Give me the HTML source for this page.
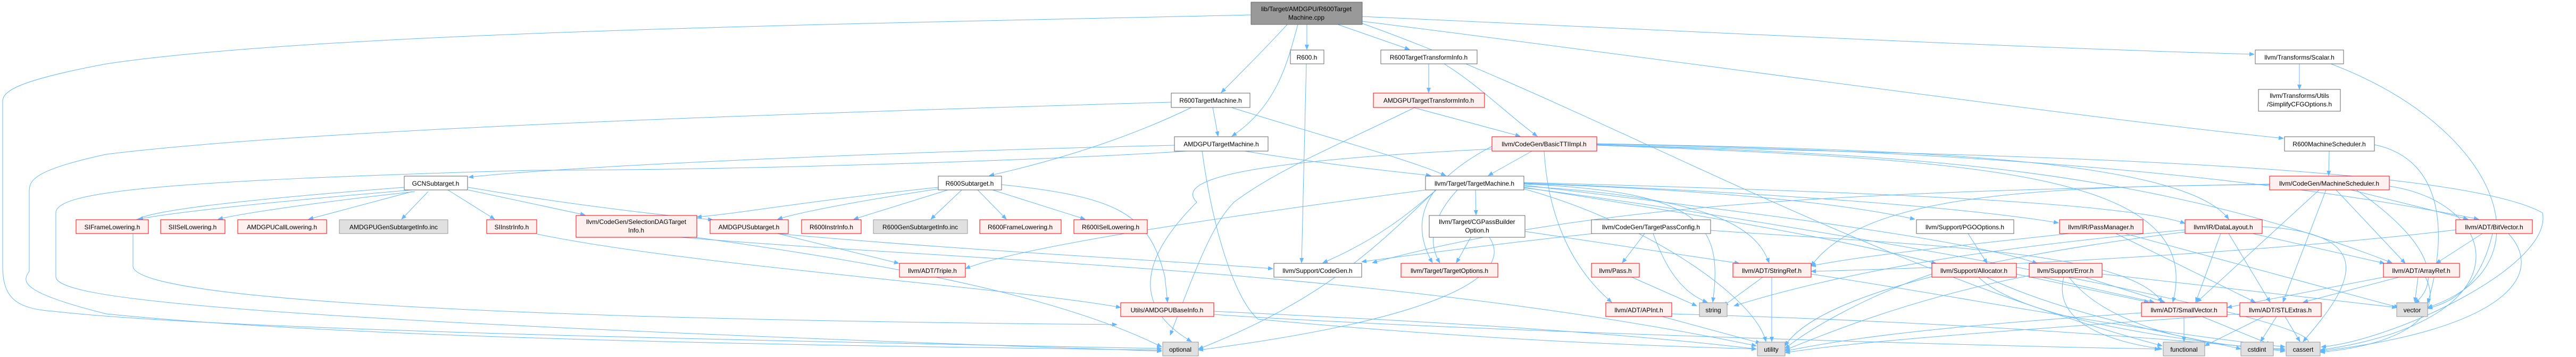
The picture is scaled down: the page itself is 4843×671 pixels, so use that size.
<!DOCTYPE html>
<html><head><meta charset="utf-8"><style>
html,body{margin:0;padding:0;background:#fff;}
svg{display:block;}
text{font-family:"Liberation Sans",sans-serif;font-size:12px;fill:#000;text-anchor:middle;}
.w{fill:#fff;stroke:#666;stroke-width:1;}
.r{fill:#fff0f0;stroke:#f00;stroke-width:1;}
.g{fill:#e0e0e0;stroke:#999;stroke-width:1;}
.k{fill:#999;stroke:#666;stroke-width:1;}
path.e{fill:none;stroke:#63b8ff;stroke-width:1;marker-end:url(#a);}
</style></head><body>
<svg width="4843" height="671" viewBox="0 0 4843 671" xmlns="http://www.w3.org/2000/svg">
<defs><marker id="a" markerWidth="10" markerHeight="8" refX="9" refY="4" orient="auto" markerUnits="userSpaceOnUse"><path d="M0,0 L10,4 L0,8 z" fill="#63b8ff"/></marker></defs>
<g>
<!-- root edges -->
<path class="e" d="M2352,28 C1600,45 600,60 200,120 C40,150 5,170 5,190 L5,500 C5,560 30,580 100,585 C400,620 1400,640 2184,655"/>
<path class="e" d="M2420,46 C2380,90 2330,140 2296,174"/>
<path class="e" d="M2440,46 C2420,120 2400,200 2316,256"/>
<path class="e" d="M2457,46 L2457,93"/>
<path class="e" d="M2515,46 L2650,93"/>
<path class="e" d="M2561,31 C3200,60 3800,90 4238,102"/>
<path class="e" d="M2561,40 C3200,120 3900,220 4293,260"/>
<!-- R600TargetMachine -->
<path class="e" d="M2202,192 C1600,210 600,240 200,290 C60,320 55,340 55,360 L55,510 C40,530 40,550 200,590 C700,640 1600,650 2184,658"/>
<path class="e" d="M2280,202 L2290,256"/>
<path class="e" d="M2240,202 C2100,270 1950,310 1860,330"/>
<path class="e" d="M2315,202 C2500,260 2650,300 2718,330"/>
<!-- AMDGPUTargetMachine -->
<path class="e" d="M2208,273 C1700,285 1100,310 881,333"/>
<path class="e" d="M2260,284 C2280,430 2320,560 2365,600 C2800,640 3100,650 3302,656"/>
<path class="e" d="M2230,284 C2000,300 1400,320 1000,320 C300,340 105,360 105,400 L105,520 C105,560 400,600 2184,660"/>
<path class="e" d="M2340,284 C2500,310 2600,320 2690,330"/>
<!-- GCNSubtarget -->
<path class="e" d="M775,357 C500,380 320,400 260,412"/>
<path class="e" d="M780,360 C600,380 460,400 410,412"/>
<path class="e" d="M775,360 L580,412"/>
<path class="e" d="M805,360 L755,412"/>
<path class="e" d="M842,357 L930,412"/>
<path class="e" d="M880,357 L1100,404"/>
<path class="e" d="M880,352 C1100,390 1300,410 1340,413"/>
<path class="e" d="M760,352 C400,380 250,400 250,420 L250,500 C250,560 900,600 2100,610"/>
<path class="e" d="M1010,440 C1300,500 1900,540 2107,578"/>
<!-- SelectionDAG -->
<path class="e" d="M1300,445 C1700,500 2000,560 2184,652"/>
<path class="e" d="M1280,446 C1800,490 2600,505 3302,650"/>
<!-- R600Subtarget -->
<path class="e" d="M1764,352 C1500,380 1400,400 1310,408"/>
<path class="e" d="M1764,355 C1600,380 1500,400 1462,412"/>
<path class="e" d="M1782,357 L1605,412"/>
<path class="e" d="M1808,357 L1750,412"/>
<path class="e" d="M1838,357 L1892,412"/>
<path class="e" d="M1866,357 L2040,412"/>
<path class="e" d="M1883,347 C2100,370 2160,400 2190,520 L2195,568"/>
<!-- AMDGPUSubtarget -->
<path class="e" d="M1462,439 L1690,495"/>
<path class="e" d="M1460,439 C1800,470 2200,490 2393,505"/>
<!-- Triple / Base -->
<path class="e" d="M2282,585 C2600,600 3000,620 3302,656"/>
<path class="e" d="M2282,591 C2700,620 3700,650 4060,656"/>
<!-- R600.h -->
<path class="e" d="M2456,120 L2447,494"/>
<!-- R600TTI -->
<path class="e" d="M2686,120 L2686,174"/>
<path class="e" d="M2715,120 C2780,160 2840,220 2890,256"/>
<!-- AMDGPUTTI -->
<path class="e" d="M2657,202 L2858,256"/>
<path class="e" d="M2660,202 C2500,280 2400,320 2320,380 C2280,420 2250,500 2200,630"/>
<!-- BasicTTIImpl -->
<path class="e" d="M2880,284 L2798,330"/>
<path class="e" d="M2805,275 C2700,330 2640,400 2693,494"/>
<path class="e" d="M2903,284 C2910,400 2950,500 3030,568"/>
<path class="e" d="M3002,272 C3500,290 4000,300 4497,494"/>
<path class="e" d="M3002,271 C3600,280 4200,320 4660,412"/>
<path class="e" d="M3002,270 C3500,280 4100,290 4190,412"/>
<path class="e" d="M3002,272 C3600,290 4600,300 4780,400 C4800,500 4500,640 4364,652"/>
<path class="e" d="M2805,280 C2400,300 2200,330 2250,380 C2180,450 2100,560 2240,642"/>
<path class="e" d="M3002,273 C3700,300 4150,320 4085,568"/>
<!-- TargetMachine.h -->
<path class="e" d="M2774,357 L2775,404"/>
<path class="e" d="M2700,357 C2650,400 2590,450 2487,494"/>
<path class="e" d="M2740,357 C2700,400 2680,450 2707,494"/>
<path class="e" d="M2680,357 C2200,420 1900,470 1815,505"/>
<path class="e" d="M2865,350 C3200,370 3300,420 3326,494"/>
<path class="e" d="M2865,346 C3200,360 3240,420 3220,568"/>
<path class="e" d="M2865,345 C3300,360 3500,390 3600,412"/>
<path class="e" d="M2865,344 C3300,360 3700,390 3870,419"/>
<path class="e" d="M2865,343 C3500,360 4000,380 4108,420"/>
<path class="e" d="M2865,348 C3300,400 3700,450 3830,495"/>
<path class="e" d="M2865,352 C3300,420 3500,460 3640,495"/>
<path class="e" d="M2865,353 C3400,420 4500,620 4320,652"/>
<path class="e" d="M2700,357 C2600,450 2500,560 2253,656"/>
<path class="e" d="M2865,355 C3100,420 3300,560 3320,642"/>
<!-- CGPassBuilderOption -->
<path class="e" d="M2765,446 L2738,494"/>
<path class="e" d="M2867,435 L3270,495"/>
<path class="e" d="M2800,446 C2850,520 2700,600 2253,658"/>
<!-- TargetPassConfig -->
<path class="e" d="M3092,439 L3050,494"/>
<path class="e" d="M3108,439 C3130,500 3160,550 3210,568"/>
<path class="e" d="M2995,439 C2800,460 2650,480 2560,492"/>
<path class="e" d="M3216,433 C3600,460 4000,470 4065,568"/>
<!-- Pass / StringRef / APInt -->
<path class="e" d="M3068,521 L3190,575"/>
<path class="e" d="M3314,521 L3240,575"/>
<path class="e" d="M3331,521 L3331,642"/>
<path class="e" d="M3405,515 C3700,560 4000,620 4296,652"/>
<path class="e" d="M3125,595 L3310,645"/>
<path class="e" d="M3143,590 C3500,600 3900,620 4296,658"/>
<!-- PGO / PassManager / DataLayout -->
<path class="e" d="M3700,439 L3736,495"/>
<path class="e" d="M3890,439 C3700,460 3500,480 3405,500"/>
<path class="e" d="M3978,439 L4240,568"/>
<path class="e" d="M3995,439 L4510,578"/>
<path class="e" d="M4108,432 C3800,460 3500,500 3260,575"/>
<path class="e" d="M4175,439 L4128,568"/>
<path class="e" d="M4190,439 L4268,568"/>
<path class="e" d="M4235,439 L4483,495"/>
<path class="e" d="M4253,426 C4500,440 4400,560 4330,642"/>
<path class="e" d="M4108,436 C3600,500 3400,580 3356,650"/>
<!-- R600MachineScheduler / MachineScheduler -->
<path class="e" d="M4379,284 L4378,330"/>
<path class="e" d="M4464,272 C4600,300 4600,450 4564,570"/>
<path class="e" d="M4360,357 L4130,568"/>
<path class="e" d="M4373,357 L4292,568"/>
<path class="e" d="M4392,357 L4522,495"/>
<path class="e" d="M4420,357 L4640,412"/>
<path class="e" d="M4267,347 C3800,350 3500,370 3405,500"/>
<path class="e" d="M4267,346 C3500,360 3000,380 2580,494"/>
<path class="e" d="M4492,350 C4700,380 4760,600 4362,658"/>
<path class="e" d="M4430,357 C4550,440 4600,520 4540,570"/>
<!-- Scalar -->
<path class="e" d="M4323,120 L4323,168"/>
<path class="e" d="M4382,120 C4700,240 4800,500 4564,578"/>
<!-- BitVector / ArrayRef -->
<path class="e" d="M4667,439 L4580,495"/>
<path class="e" d="M4686,439 C4660,550 4600,570 4564,580"/>
<path class="e" d="M4716,439 C4790,520 4700,620 4362,660"/>
<path class="e" d="M4617,432 C4300,470 3800,500 3405,510"/>
<path class="e" d="M4546,521 L4540,568"/>
<path class="e" d="M4560,521 C4600,600 4500,650 4362,662"/>
<path class="e" d="M4481,521 L4187,578"/>
<path class="e" d="M4510,521 L4330,568"/>
<!-- Allocator / Error -->
<path class="e" d="M3840,521 L4050,568"/>
<path class="e" d="M3920,521 L4070,568"/>
<path class="e" d="M3952,515 L4506,578"/>
<path class="e" d="M3880,521 C3860,600 3950,640 4065,656"/>
<path class="e" d="M3890,521 C3950,600 4100,650 4296,656"/>
<path class="e" d="M3720,521 C3800,600 4100,640 4296,660"/>
<path class="e" d="M3735,521 C3900,600 4150,640 4213,656"/>
<path class="e" d="M3790,515 L4040,568"/>
<path class="e" d="M3632,515 C3500,560 3400,620 3356,655"/>
<path class="e" d="M3815,518 C3600,560 3450,620 3356,658"/>
<!-- SmallVector / STLExtras -->
<path class="e" d="M4106,595 L4106,642"/>
<path class="e" d="M4140,595 L4270,648"/>
<path class="e" d="M4256,595 L4145,650"/>
<path class="e" d="M4280,595 L4250,642"/>
<path class="e" d="M4296,595 L4324,642"/>
<path class="e" d="M4026,588 C3700,610 3500,630 3356,660"/>
<path class="e" d="M4211,590 C3800,620 3500,640 3356,663"/>
<path class="e" d="M2561,44 C3000,200 3500,500 4065,650"/>
</g>
<!-- nodes -->
<rect class="k" x="2352" y="4" width="209" height="42"/><text x="2456" y="21">lib/Target/AMDGPU/R600Target</text><text x="2456" y="37">Machine.cpp</text>
<rect class="w" x="2202" y="175" width="148" height="27"/><text x="2276" y="193">R600TargetMachine.h</text>
<rect class="w" x="2208" y="257" width="176" height="27"/><text x="2296" y="275">AMDGPUTargetMachine.h</text>
<rect class="w" x="760" y="331" width="119" height="26"/><text x="819" y="349">GCNSubtarget.h</text>
<rect class="r" x="143" y="413" width="136" height="26"/><text x="211" y="431">SIFrameLowering.h</text>
<rect class="r" x="302" y="413" width="121" height="26"/><text x="362" y="431">SIISelLowering.h</text>
<rect class="r" x="447" y="413" width="167" height="26"/><text x="530" y="431">AMDGPUCallLowering.h</text>
<rect class="g" x="638" y="413" width="204" height="26"/><text x="740" y="431">AMDGPUGenSubtargetInfo.inc</text>
<rect class="r" x="915" y="413" width="94" height="26"/><text x="962" y="431">SIInstrInfo.h</text>
<rect class="r" x="1083" y="405" width="227" height="41"/><text x="1196" y="421">llvm/CodeGen/SelectionDAGTarget</text><text x="1196" y="437">Info.h</text>
<rect class="w" x="1764" y="331" width="119" height="26"/><text x="1823" y="349">R600Subtarget.h</text>
<rect class="r" x="1335" y="413" width="147" height="26"/><text x="1408" y="431">AMDGPUSubtarget.h</text>
<rect class="r" x="1507" y="413" width="112" height="26"/><text x="1563" y="431">R600InstrInfo.h</text>
<rect class="g" x="1642" y="413" width="177" height="26"/><text x="1730" y="431">R600GenSubtargetInfo.inc</text>
<rect class="r" x="1842" y="413" width="153" height="26"/><text x="1918" y="431">R600FrameLowering.h</text>
<rect class="r" x="2019" y="413" width="138" height="26"/><text x="2088" y="431">R600ISelLowering.h</text>
<rect class="r" x="1691" y="495" width="124" height="26"/><text x="1753" y="513">llvm/ADT/Triple.h</text>
<rect class="r" x="2107" y="569" width="175" height="26"/><text x="2194" y="587">Utils/AMDGPUBaseInfo.h</text>
<rect class="g" x="2186" y="643" width="67" height="26"/><text x="2219" y="661">optional</text>
<rect class="w" x="2395" y="495" width="165" height="26"/><text x="2477" y="513">llvm/Support/CodeGen.h</text>
<rect class="w" x="2426" y="94" width="63" height="26"/><text x="2457" y="112">R600.h</text>
<rect class="w" x="2596" y="94" width="181" height="26"/><text x="2686" y="112">R600TargetTransformInfo.h</text>
<rect class="r" x="2582" y="175" width="209" height="27"/><text x="2686" y="193">AMDGPUTargetTransformInfo.h</text>
<rect class="r" x="2805" y="257" width="197" height="27"/><text x="2903" y="275">llvm/CodeGen/BasicTTIImpl.h</text>
<rect class="w" x="2680" y="331" width="185" height="26"/><text x="2772" y="349">llvm/Target/TargetMachine.h</text>
<rect class="w" x="2687" y="405" width="180" height="41"/><text x="2777" y="421">llvm/Target/CGPassBuilder</text><text x="2777" y="437">Option.h</text>
<rect class="w" x="2992" y="413" width="224" height="26"/><text x="3104" y="431">llvm/CodeGen/TargetPassConfig.h</text>
<rect class="r" x="2634" y="495" width="182" height="26"/><text x="2725" y="513">llvm/Target/TargetOptions.h</text>
<rect class="r" x="2992" y="495" width="90" height="26"/><text x="3037" y="513">llvm/Pass.h</text>
<rect class="r" x="3258" y="495" width="147" height="26"/><text x="3331" y="513">llvm/ADT/StringRef.h</text>
<rect class="r" x="3019" y="569" width="124" height="26"/><text x="3081" y="587">llvm/ADT/APInt.h</text>
<rect class="g" x="3195" y="569" width="52" height="26"/><text x="3221" y="587">string</text>
<rect class="g" x="3304" y="643" width="52" height="26"/><text x="3330" y="661">utility</text>
<rect class="w" x="3603" y="413" width="183" height="26"/><text x="3694" y="431">llvm/Support/PGOOptions.h</text>
<rect class="w" x="4240" y="94" width="166" height="26"/><text x="4323" y="112">llvm/Transforms/Scalar.h</text>
<rect class="w" x="4246" y="168" width="154" height="41"/><text x="4323" y="184">llvm/Transforms/Utils</text><text x="4323" y="200">/SimplifyCFGOptions.h</text>
<rect class="w" x="4295" y="257" width="169" height="27"/><text x="4379" y="275">R600MachineScheduler.h</text>
<rect class="r" x="4267" y="331" width="225" height="26"/><text x="4379" y="349">llvm/CodeGen/MachineScheduler.h</text>
<rect class="r" x="3872" y="413" width="157" height="26"/><text x="3950" y="431">llvm/IR/PassManager.h</text>
<rect class="r" x="4108" y="413" width="145" height="26"/><text x="4180" y="431">llvm/IR/DataLayout.h</text>
<rect class="r" x="4617" y="413" width="144" height="26"/><text x="4689" y="431">llvm/ADT/BitVector.h</text>
<rect class="r" x="3632" y="495" width="159" height="26"/><text x="3711" y="513">llvm/Support/Allocator.h</text>
<rect class="r" x="3815" y="495" width="137" height="26"/><text x="3883" y="513">llvm/Support/Error.h</text>
<rect class="r" x="4481" y="495" width="143" height="26"/><text x="4552" y="513">llvm/ADT/ArrayRef.h</text>
<rect class="r" x="4026" y="569" width="161" height="26"/><text x="4106" y="587">llvm/ADT/SmallVector.h</text>
<rect class="r" x="4211" y="569" width="153" height="26"/><text x="4287" y="587">llvm/ADT/STLExtras.h</text>
<rect class="g" x="4506" y="569" width="58" height="26"/><text x="4535" y="587">vector</text>
<rect class="g" x="4067" y="643" width="78" height="26"/><text x="4106" y="661">functional</text>
<rect class="g" x="4213" y="643" width="61" height="26"/><text x="4243" y="661">cstdint</text>
<rect class="g" x="4298" y="643" width="64" height="26"/><text x="4330" y="661">cassert</text>
</svg>
</body></html>
